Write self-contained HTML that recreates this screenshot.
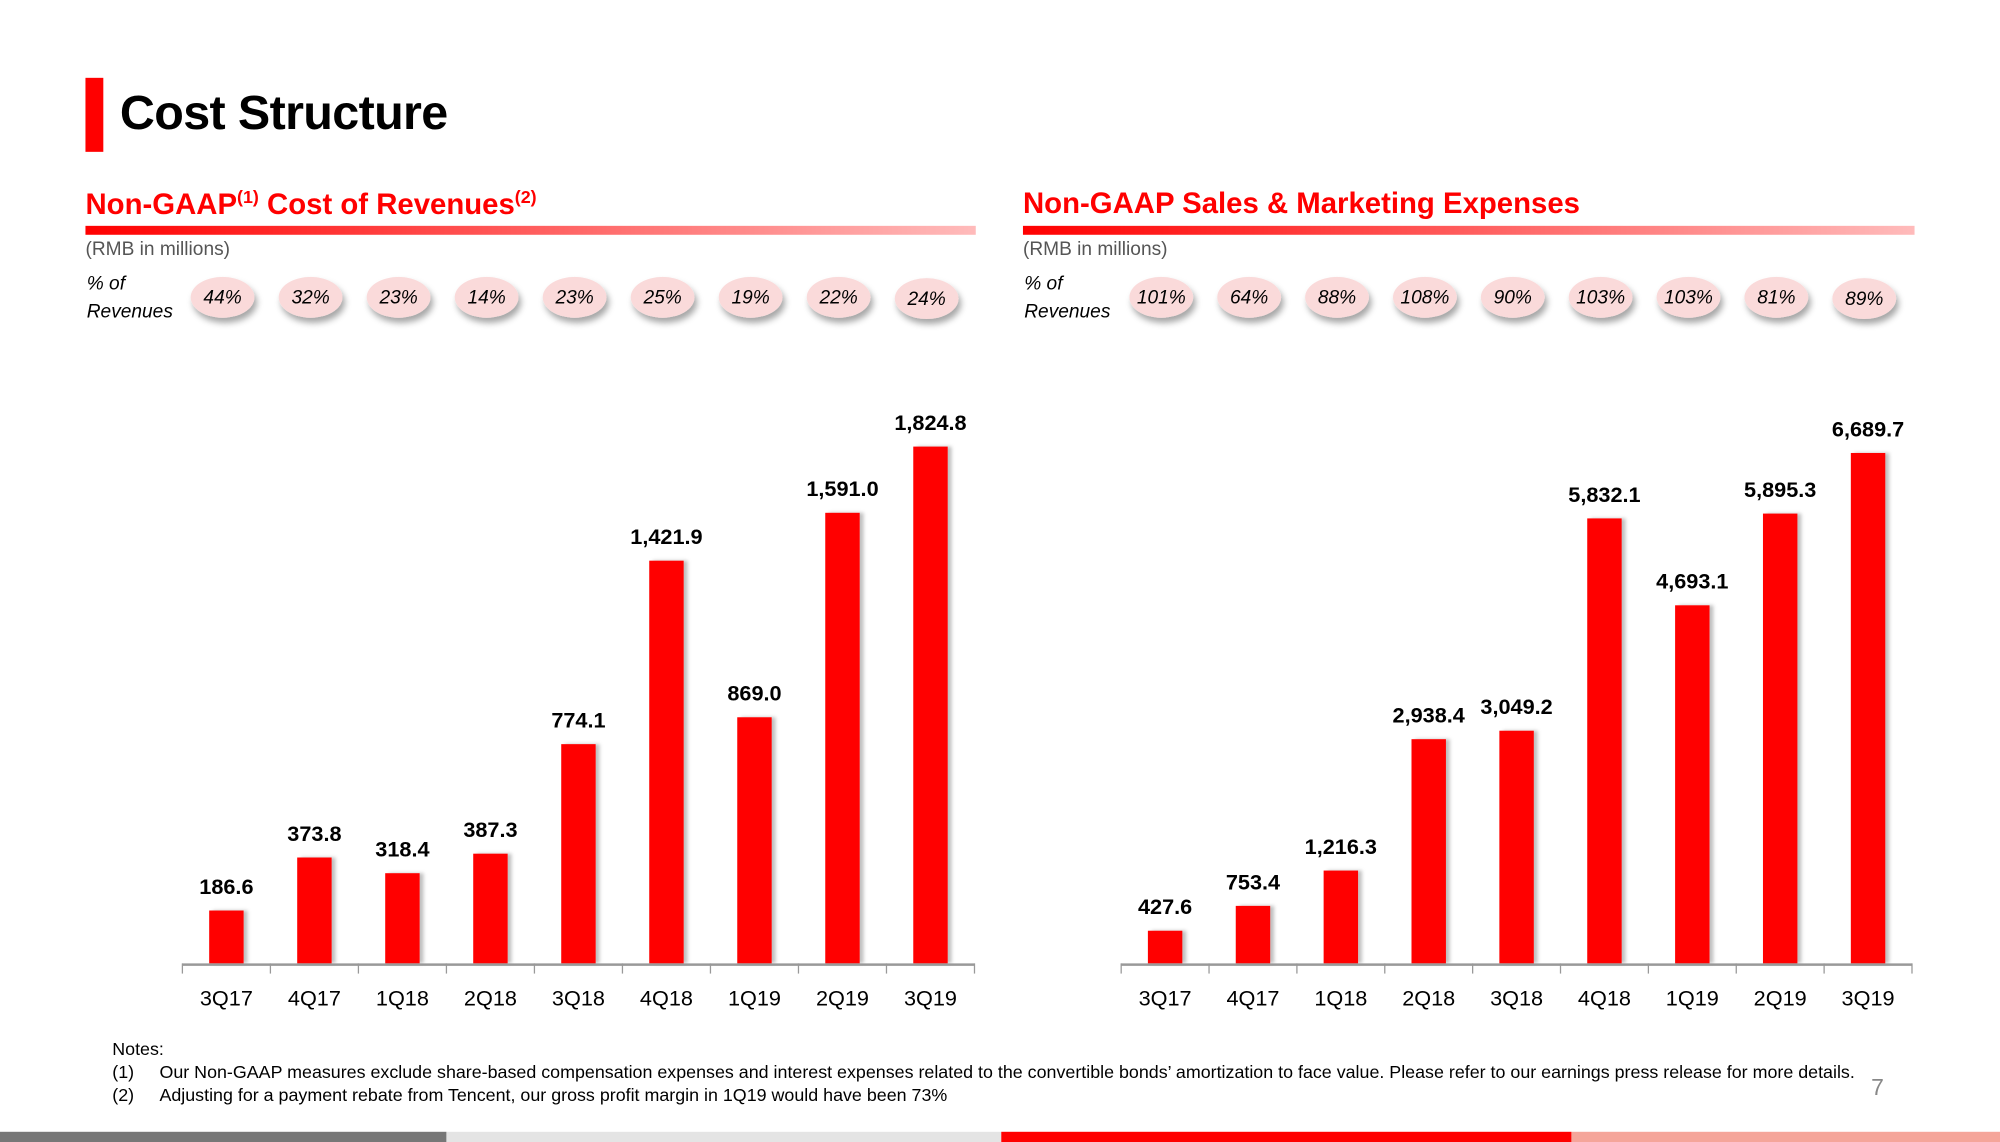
<!DOCTYPE html>
<html><head><meta charset="utf-8">
<style>
html,body{margin:0;padding:0;background:#fff;}
body{width:2000px;height:1142px;overflow:hidden;position:relative;font-family:"Liberation Sans Narrow","Liberation Sans",sans-serif;}
#stage{position:absolute;left:0;top:0;width:1568px;height:895px;transform:scale(1.27551,1.27598);transform-origin:0 0;}
.abs{position:absolute;}
.title{left:94px;top:68px;font-size:38px;font-weight:bold;color:#000;letter-spacing:-0.5px;}
.sec{font-size:23px;font-weight:bold;color:#f00;top:146px;}
.sec sup{font-size:14px;}
.rule{height:7px;top:177px;background:linear-gradient(to right,#f00,#fbb);}
.unit{font-size:15px;color:#555;top:187px;}
.pct{font-size:15px;font-style:italic;top:212px;line-height:22px;}
.notes{font-size:14px;color:#000;}
</style></head><body>
<div id="stage">
<div class="abs" style="left:67px;top:61px;width:14px;height:58px;background:#f00"></div>
<div class="abs title">Cost Structure</div>

<div class="abs sec" style="left:67px">Non-GAAP<sup>(1)</sup> Cost of Revenues<sup>(2)</sup></div>
<div class="abs rule" style="left:67px;width:698px"></div>
<div class="abs unit" style="left:67px">(RMB in millions)</div>
<div class="abs pct" style="left:68px">% of<br>Revenues</div>

<div class="abs sec" style="left:802px">Non-GAAP Sales &amp; Marketing Expenses</div>
<div class="abs rule" style="left:802px;width:699px"></div>
<div class="abs unit" style="left:802px">(RMB in millions)</div>
<div class="abs pct" style="left:803px">% of<br>Revenues</div>

<svg class="abs" id="chart" style="left:0;top:0" width="1568" height="895">
<defs><filter id="sh" x="-30%" y="-30%" width="170%" height="180%"><feDropShadow dx="2" dy="4" stdDeviation="2.5" flood-color="#000" flood-opacity="0.35"/></filter>
<filter id="bs" x="-30%" y="-10%" width="170%" height="120%"><feDropShadow dx="3" dy="0" stdDeviation="1.5" flood-color="#000" flood-opacity="0.25"/></filter></defs>
</svg>

<div class="abs notes" style="left:88px;top:813px;line-height:18px">Notes:<br>
<span style="display:inline-block;width:37px">(1)</span>Our Non-GAAP measures exclude share-based compensation expenses and interest expenses related to the convertible bonds’ amortization to face value. Please refer to our earnings press release for more details.<br>
<span style="display:inline-block;width:37px">(2)</span>Adjusting for a payment rebate from Tencent, our gross profit margin in 1Q19 would have been 73%</div>
<div class="abs" style="left:1467px;top:842px;font-size:18px;color:#888">7</div>

<div class="abs" style="left:0;top:887px;width:350px;height:8px;background:#777"></div>
<div class="abs" style="left:350px;top:887px;width:435px;height:8px;background:#e4e4e4"></div>
<div class="abs" style="left:785px;top:887px;width:447px;height:8px;background:#f00"></div>
<div class="abs" style="left:1232px;top:887px;width:336px;height:8px;background:#f5a59a"></div>
</div>
<script>
const categories = ["3Q17","4Q17","1Q18","2Q18","3Q18","4Q18","1Q19","2Q19","3Q19"];
const costValues = [186.6,373.8,318.4,387.3,774.1,1421.9,869.0,1591.0,1824.8];
const costPct = ["44%","32%","23%","14%","23%","25%","19%","22%","24%"];
const smValues = [427.6,753.4,1216.3,2938.4,3049.2,5832.1,4693.1,5895.3,6689.7];
const smPct = ["101%","64%","88%","108%","90%","103%","103%","81%","89%"];

const NS="http://www.w3.org/2000/svg";
const svg=document.getElementById('chart');
function mk(tag,attrs,parent){const e=document.createElementNS(NS,tag);for(const k in attrs)e.setAttribute(k,attrs[k]);(parent||svg).appendChild(e);return e;}
function fmt(v){return v.toLocaleString('en-US',{minimumFractionDigits:1,maximumFractionDigits:1});}

function drawChart(prefix,values,pcts,x0,x1,maxV,maxH){
  const base=755, n=categories.length, step=(x1-x0)/n;
  const xScale=i=>x0+step*(i+0.5);
  const yScale=v=>v/maxV*maxH;
  const g=mk('g',{});
  
  
  values.forEach((v,i)=>{
    const cx=xScale(i), h=yScale(v);
    const r=mk('rect',{x:cx-13.5,y:base-h,width:27,height:h,fill:'#f00',filter:'url(#bs)'},g);
    
    
    const t=mk('text',{x:cx,y:base-h-13,'text-anchor':'middle','font-size':17,'font-weight':'bold',fill:'#000','font-family':'"Liberation Sans Narrow","Liberation Sans",sans-serif'},g);
    t.textContent=fmt(v);
    
    
    const c=mk('text',{x:cx,y:788,'text-anchor':'middle','font-size':17,fill:'#000','font-family':'"Liberation Sans Narrow","Liberation Sans",sans-serif'},g);
    c.textContent=categories[i];
    
    
    const py=233+(i===n-1?1:0);
    const e=mk('ellipse',{cx:cx-3,cy:py,rx:25,ry:16,fill:'#fadada',filter:'url(#sh)'},g);
    
    
    const p=mk('text',{x:cx-3,y:py+5,'text-anchor':'middle','font-size':15,'font-style':'italic',fill:'#000','font-family':'"Liberation Sans Narrow","Liberation Sans",sans-serif'},g);
    p.textContent=pcts[i];
    
    
  });
  const ax=mk('line',{x1:x0,y1:base+1,x2:x1,y2:base+1,stroke:'#999','stroke-width':2},g);
  
  
  for(let i=0;i<=n;i++){
    const tk=mk('line',{x1:x0+step*i,y1:base,x2:x0+step*i,y2:base+8,stroke:'#999','stroke-width':1},g);
    
    
  }
}
drawChart('cost',costValues,costPct,143,764,1824.8,405);
drawChart('sm',smValues,smPct,879,1499,6689.7,400);
</script>
</body></html>
